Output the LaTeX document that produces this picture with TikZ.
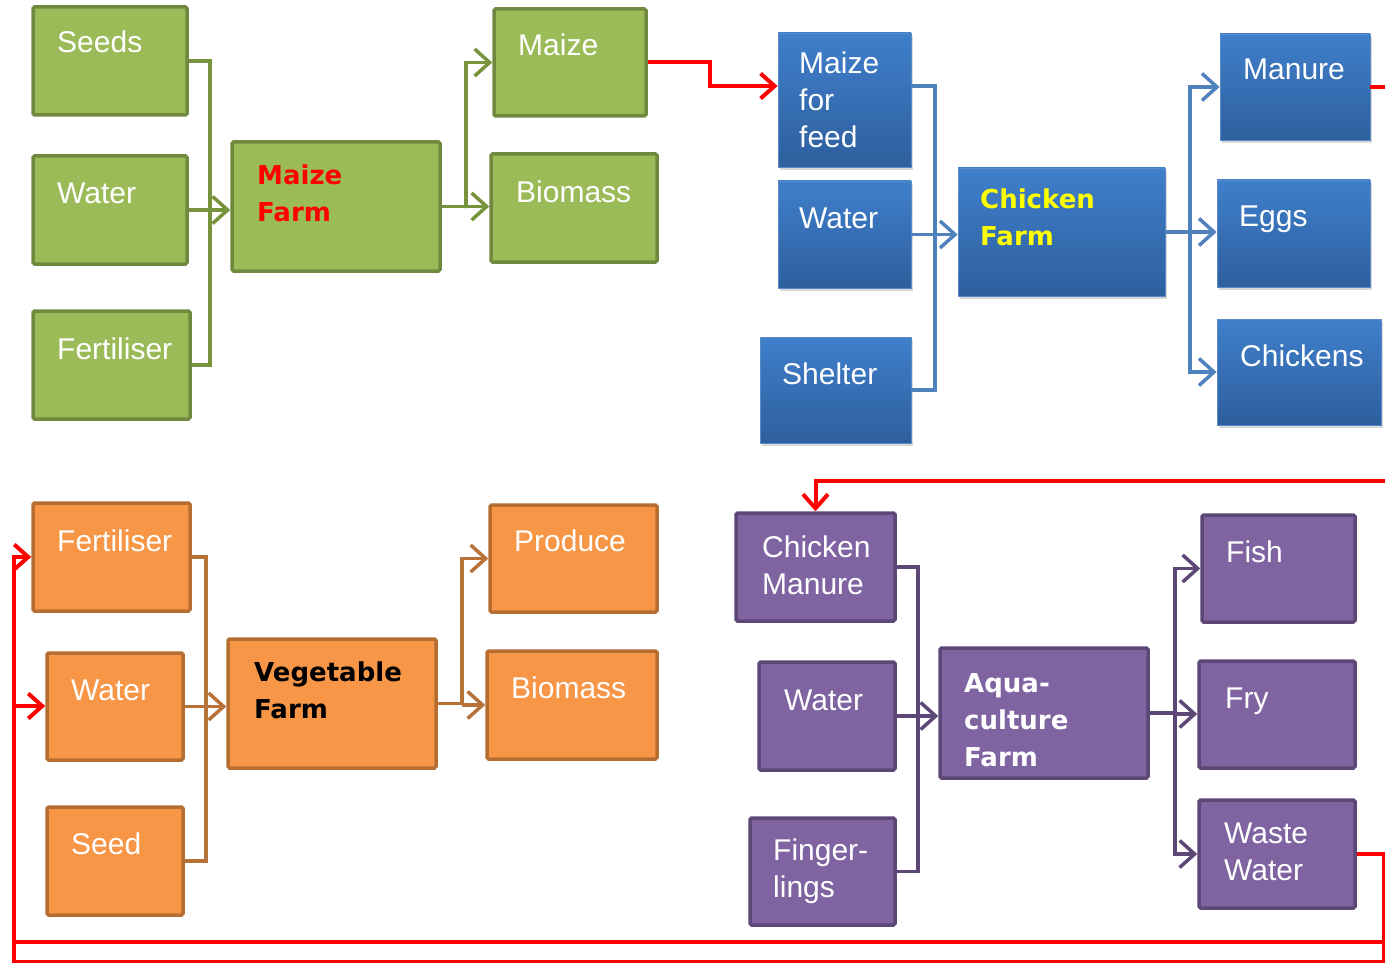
\documentclass[tikz,border=0pt]{standalone}
\usepackage{fontspec}
\setmainfont{Liberation Sans}
\newfontfamily\heavy{DejaVu Sans}
\usetikzlibrary{arrows.meta,shadows}
\definecolor{gfill}{HTML}{9BBB59}
\definecolor{gdraw}{HTML}{71893F}
\definecolor{glin}{HTML}{77933C}
\definecolor{btop}{HTML}{3F7FCB}
\definecolor{bbot}{HTML}{2E5F9E}
\definecolor{bdraw}{HTML}{5A8BC6}
\definecolor{blin}{HTML}{4F81BD}
\definecolor{ofill}{HTML}{F79646}
\definecolor{odraw}{HTML}{B66D31}
\definecolor{olin}{HTML}{B7723A}
\definecolor{pfill}{HTML}{8064A2}
\definecolor{pdraw}{HTML}{5C4776}
\definecolor{plin}{HTML}{5C4776}
\definecolor{rlin}{HTML}{FF0000}
\definecolor{cyel}{HTML}{FFFF00}
\tikzset{
  basebox/.style={rectangle, inner sep=0pt, rounded corners=1.5pt, line width=3.5pt},
  gbx/.style={basebox, fill=gfill, draw=gdraw},
  obx/.style={basebox, fill=ofill, draw=odraw},
  pbx/.style={basebox, fill=pfill, draw=pdraw},
  bbx/.style={rectangle, inner sep=0pt, top color=btop, bottom color=bbot, draw=bdraw, line width=0.8pt,
     drop shadow={shadow xshift=2pt, shadow yshift=-3pt, opacity=0.3}},
  txt/.style={inner sep=0pt, anchor=base west, text=white, align=left, font=\fontsize{30}{37}\selectfont},
  btxt/.style={inner sep=0pt, anchor=base west, align=left, font=\heavy\bfseries\fontsize{26}{37}\selectfont},
  conn/.style={line width=3.5pt},
  gconn/.style={conn, draw=glin},
  bconn/.style={conn, draw=blin},
  oconn/.style={conn, draw=olin},
  pconn/.style={conn, draw=plin},
  rconn/.style={line width=4pt, draw=rlin},
  arrowhd/.style={-{Straight Barb[length=15pt,width=27pt]}},
  rarrowhd/.style={-{Straight Barb[length=14pt,width=25pt]}},
}
\begin{document}
\begin{tikzpicture}[x=1pt,y=-1pt]
\path[use as bounding box, clip] (0,0) rectangle (1385,963);
\fill[white] (0,0) rectangle (1385,963);

% ---------- Maize farm (green)
\node[gbx, minimum width=154pt, minimum height=108pt] (seeds) at (110,61) {};
\node[gbx, minimum width=154pt, minimum height=108pt] (gwater) at (110,210) {};
\node[gbx, minimum width=157pt, minimum height=108pt] (gfert) at (111.5,365) {};
\node[gbx, minimum width=208pt, minimum height=129pt] (mfarm) at (336,206.5) {};
\node[gbx, minimum width=152pt, minimum height=107pt] (maize) at (570,62.5) {};
\node[gbx, minimum width=166pt, minimum height=108pt] (gbio) at (574,208) {};
\node[txt] (seedsT) at (57,53) {Seeds};
\node[txt] (gwaterT) at (57,204) {Water};
\node[txt] (gfertT) at (57,359) {Fertiliser};
\node[btxt, text=rlin] (mfarmT) at (257,222) {Maize\\Farm};
\node[txt] (maizeT) at (518,56) {Maize};
\node[txt] (gbioT) at (516,202) {Biomass};

% ---------- Chicken farm (blue)
\node[bbx, minimum width=133pt, minimum height=134pt] (mff) at (844.5,100) {};
\node[bbx, minimum width=133pt, minimum height=107pt] (bwater) at (844.5,234.5) {};
\node[bbx, minimum width=151pt, minimum height=106pt] (shelter) at (835.5,390) {};
\node[bbx, minimum width=207pt, minimum height=128pt] (cfarm) at (1061.5,232) {};
\node[bbx, minimum width=150pt, minimum height=106pt] (manure) at (1295,87) {};
\node[bbx, minimum width=153pt, minimum height=107pt] (eggs) at (1293.5,233.5) {};
\node[bbx, minimum width=164pt, minimum height=106pt] (chickens) at (1299,372) {};
\node[txt] (mffT) at (799,148) {Maize\\for\\feed};
\node[txt] (bwaterT) at (799,228) {Water};
\node[txt] (shelterT) at (782,384) {Shelter};
\node[btxt, text=cyel] (cfarmT) at (980,245) {Chicken\\Farm};
\node[txt] (manureT) at (1243,80) {Manure};
\node[txt] (eggsT) at (1239,226) {Eggs};
\node[txt] (chickensT) at (1240,366) {Chickens};

% ---------- Vegetable farm (orange)
\node[obx, minimum width=157pt, minimum height=108pt] (vfert) at (111.5,557) {};
\node[obx, minimum width=136pt, minimum height=107pt] (vwater) at (115,706.5) {};
\node[obx, minimum width=136pt, minimum height=108pt] (vseed) at (115,861) {};
\node[obx, minimum width=208pt, minimum height=129pt] (vfarm) at (332,703.5) {};
\node[obx, minimum width=167pt, minimum height=107pt] (produce) at (573.5,558.5) {};
\node[obx, minimum width=170pt, minimum height=108pt] (vbio) at (572,705) {};
\node[txt] (vfertT) at (57,551) {Fertiliser};
\node[txt] (vwaterT) at (71,700) {Water};
\node[txt] (vseedT) at (71,854) {Seed};
\node[btxt, text=black] (vfarmT) at (254,718) {Vegetable\\Farm};
\node[txt] (produceT) at (514,551) {Produce};
\node[txt] (vbioT) at (511,698) {Biomass};

% ---------- Aquaculture farm (purple)
\node[pbx, minimum width=159pt, minimum height=108pt] (cman) at (815.5,567) {};
\node[pbx, minimum width=136pt, minimum height=108pt] (pwater) at (827,716) {};
\node[pbx, minimum width=145pt, minimum height=107pt] (fing) at (822.5,871.5) {};
\node[pbx, minimum width=208pt, minimum height=130pt] (afarm) at (1044,713) {};
\node[pbx, minimum width=153pt, minimum height=107pt] (fish) at (1278.5,568.5) {};
\node[pbx, minimum width=156pt, minimum height=107pt] (fry) at (1277,714.5) {};
\node[pbx, minimum width=156pt, minimum height=108pt] (ww) at (1277,854) {};
\node[txt] (cmanT) at (762,594) {Chicken\\Manure};
\node[txt] (pwaterT) at (784,710) {Water};
\node[txt] (fingT) at (773,897) {Finger-\\lings};
\node[btxt, text=white] (afarmT) at (964,766) {Aqua-\\culture\\Farm};
\node[txt] (fishT) at (1226,562) {Fish};
\node[txt] (fryT) at (1225,708) {Fry};
\node[txt] (wwT) at (1224,880) {Waste\\Water};

% ---------- green connectors
\coordinate (gin) at (210,208);
\coordinate (gout) at (466,208);
\draw[gconn] (seeds.east) -| (gin);
\draw[gconn] (gfert.east) -| (gin);
\draw[gconn, arrowhd] (gwater.east) -- (gwater.east -| mfarm.west);
\draw[gconn, arrowhd] (mfarm.east) -| (gout) |- (maize.west);
\draw[gconn, arrowhd] (mfarm.east) -- (mfarm.east -| gbio.west);

% ---------- blue connectors
\coordinate (bin) at (935,233);
\coordinate (bout) at (1190,232);
\draw[bconn] ([yshift=14pt]mff.east) -| (bin);
\draw[bconn] (shelter.east) -| (bin);
\draw[bconn, arrowhd] (bwater.east) -- (bwater.east -| cfarm.west);
\draw[bconn, arrowhd] (cfarm.east) -| (bout) |- (manure.west);
\draw[bconn, arrowhd] (cfarm.east) -- (cfarm.east -| eggs.west);
\draw[bconn, arrowhd] (bout) |- (chickens.west);

% ---------- orange connectors
\coordinate (vin) at (206,706);
\coordinate (vout) at (462,705);
\draw[oconn] (vfert.east) -| (vin);
\draw[oconn] (vseed.east) -| (vin);
\draw[oconn, arrowhd] (vwater.east) -- (vwater.east -| vfarm.west);
\draw[oconn, arrowhd] (vfarm.east) -| (vout) |- (produce.west);
\draw[oconn, arrowhd] (vout) -- (vout -| vbio.west);

% ---------- purple connectors
\coordinate (pin) at (918,714);
\coordinate (pout) at (1175,714);
\draw[pconn] (cman.east) -| (pin);
\draw[pconn] (fing.east) -| (pin);
\draw[pconn, arrowhd] (pwater.east) -- (pwater.east -| afarm.west);
\draw[pconn, arrowhd] (afarm.east) -| (pout) |- (fish.west);
\draw[pconn, arrowhd] (pout) -- (pout -| fry.west);
\draw[pconn, arrowhd] (pout) |- (ww.west);

% ---------- red links
\coordinate (r1) at (710,86);
\draw[rconn, rarrowhd] (maize.east) -| (r1) -- ([yshift=14pt]mff.west);
\coordinate (r2) at (1400,481);
\draw[rconn, rarrowhd] (manure.east) -| (r2) -| (cman.north);
\coordinate (r3) at (1384,942);
\coordinate (r4) at (14,557);
\draw[rconn, rarrowhd] (ww.east) -| (r3) -| (r4) -- (vfert.west);
\coordinate (r5) at (14,706);
\draw[rconn, rarrowhd] (r5) -- (r5 -| vwater.west);
\coordinate (r6) at (14,975);
\coordinate (r7) at (1384,975);
\coordinate (r8) at (14,961);
\coordinate (r9) at (1400,961);
\draw[rconn] (r4) -- (r6);
\draw[rconn] (r3) -- (r7);
\draw[rconn, line width=3pt] (r8) -- (r9);
\end{tikzpicture}
\end{document}
